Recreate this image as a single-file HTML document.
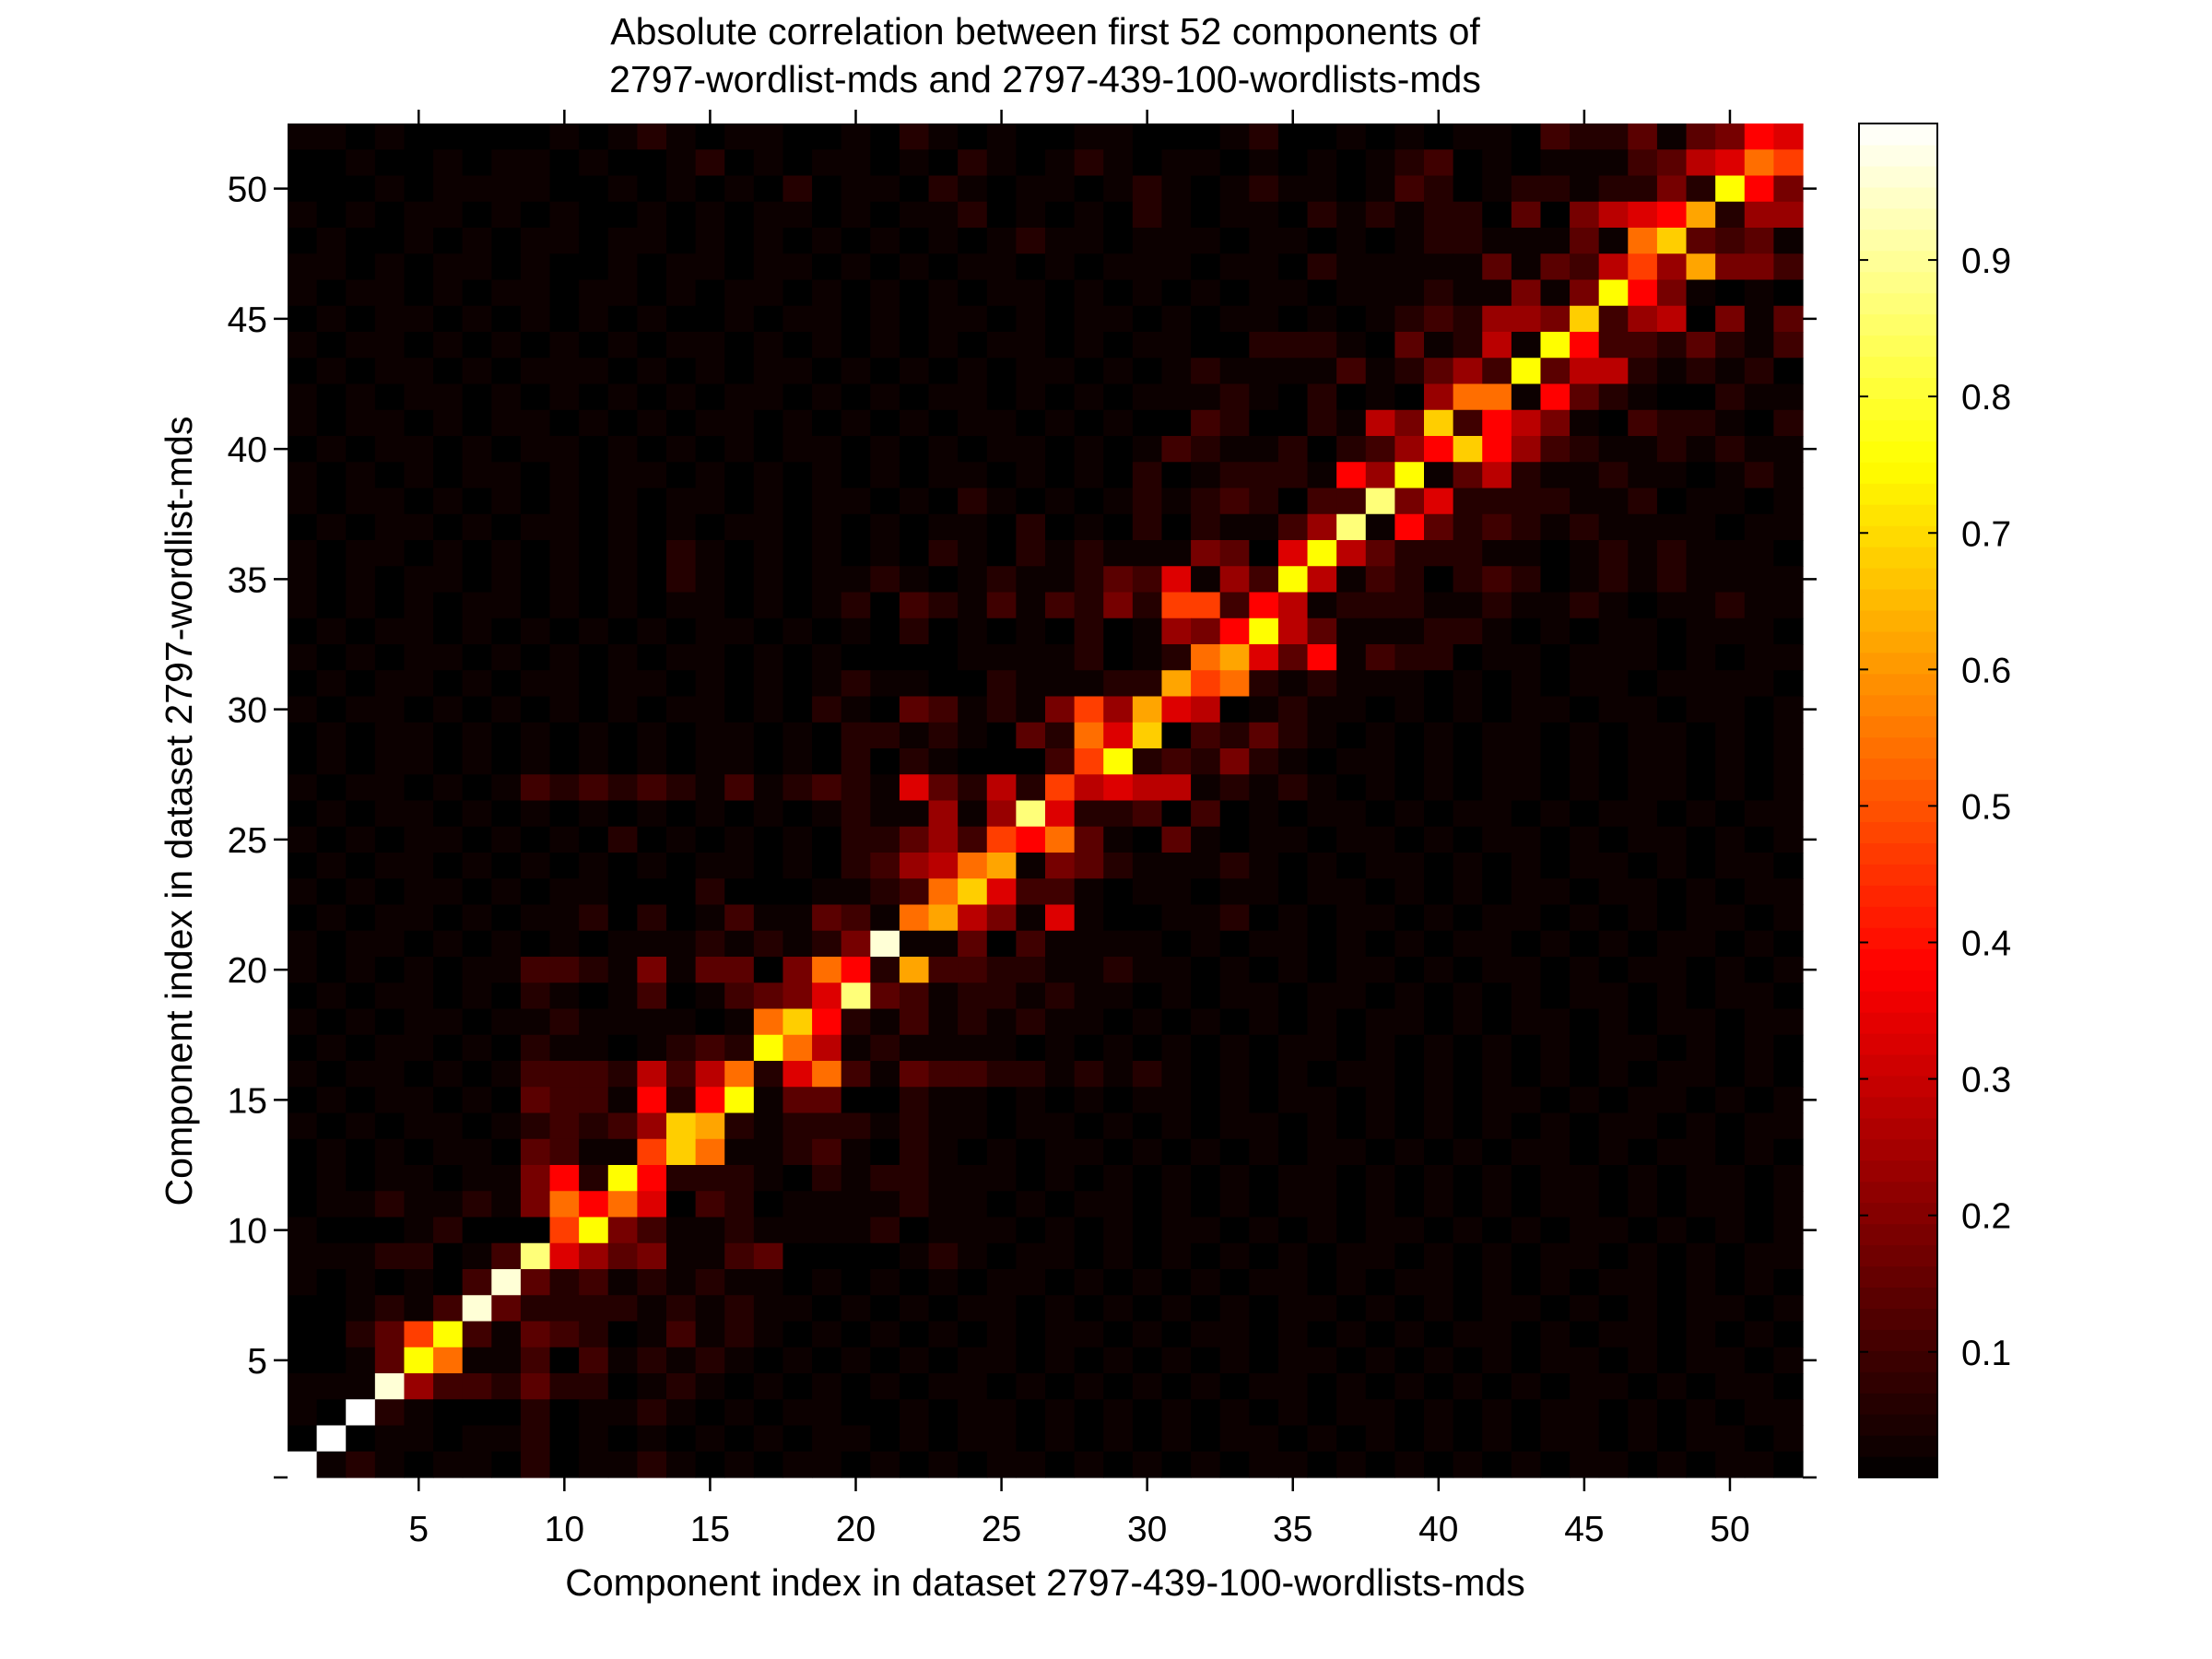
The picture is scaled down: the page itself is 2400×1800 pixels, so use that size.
<!DOCTYPE html>
<html>
<head>
<meta charset="utf-8">
<style>
  html,body{margin:0;padding:0;background:#fff;}
  body{width:2400px;height:1800px;overflow:hidden;}
  svg{display:block;font-family:"Liberation Sans",Arial,sans-serif;}
</style>
</head>
<body>
<svg id="chart" width="2400" height="1800" viewBox="0 0 2400 1800">
  <rect x="0" y="0" width="2400" height="1800" fill="#ffffff"/>
  <text x="1134" y="48" font-size="41" text-anchor="middle" fill="#000">Absolute correlation between first 52 components of</text>
  <text x="1134" y="100" font-size="41" text-anchor="middle" fill="#000">2797-wordlist-mds and 2797-439-100-wordlists-mds</text>
  <g id="cells"></g>
  <g id="axes"></g>
  <g id="cbar"></g>
  <text x="1134" y="1731" font-size="41" text-anchor="middle" fill="#000">Component index in dataset 2797-439-100-wordlists-mds</text>
  <text x="0" y="0" font-size="41" text-anchor="middle" fill="#000" transform="translate(208,880) rotate(-90)">Component index in dataset 2797-wordlist-mds</text>
</svg>
<script>
// Matrix rows from top (y=52) down to bottom (y=1); each char is a colour level
const rowLevels = [
"1101000001 0121011001 0210100110 0012001010 1103224145 98",
"0010010110 1001201011 0102101210 1101010123 0101113478 ba",
"0001011110 0101010201 1021011012 1012110132 012212252e 95",
"1010110101 0010101101 0112010102 1011021212 20405789c2 66",
"0100101011 0110101010 1010121101 1101101012 211141bd43 41",
"1101011010 0101101101 0101101011 1011021111 141437a6c5 53",
"1011010110 1101011010 1010110101 0101101112 11515e9510 10",
"0101101010 1010010110 1011010110 1011010123 2665d36705 14",
"1011010101 0101101010 1010110101 1002221041 271e933242 13",
"0101101011 1010101101 0101011010 1211113124 63e4772121 20",
"1010110101 0101011010 1011010101 1121020106 bb19421002 11",
"1011010110 1010110101 0101101010 032002175d 3975103221 02",
"0101101011 0101010110 1010110101 3211202369 d963211212 11",
"1010101101 0110101010 1011010102 01222196e1 4721121101 21",
"1011010101 0101101011 0102101012 1232033f58 2222112011 01",
"0101101011 0101011010 1011020102 021136f194 2321211110 11",
"1011010101 0102101010 1021021211 15408e7422 2110121211 10",
"1010110101 0102101011 2101211243 8163e71320 2320121211 11",
"1010101101 0101101012 0321313252 aa39712221 1211210112 11",
"0101101010 1010110101 0201010201 659e741112 2101011011 10",
"1010110101 0101101010 0001111201 2bc8491322 0110111010 11",
"0101101011 0110101012 1100211122 cab2121110 1010110111 10",
"1011010101 0101101021 0431215a6c 8701211010 1011011011 01",
"0101101010 1010110102 2121042b8d 0324210101 0110101101 01",
"0101101010 1010110102 0210003ae2 3252101101 0110101101 01",
"1011010132 3232131232 184272a787 7121210101 0110101101 01",
"0101101010 1010101012 11616f8223 0301011010 1101011010 11",
"1010110101 0201010102 2463a9b410 4101101101 0110101101 01",
"0101101010 1010110102 367bc15421 1121010110 1010110101 10",
"1010110101 1000200011 23bd833101 1011011010 1011011010 11",
"0101101011 2020131143 1bc7518100 1120101101 0110101011 01",
"1011010101 0111212125 g114031111 0101101010 1101010110 10",
"1010101133 21514405b9 2c33221121 1010101101 0110101101 01",
"0101101021 013013458f 4312212110 1011011010 1010110101 10",
"1010110112 111101bd92 1312121101 0101010110 1011010110 11",
"0101101021 101232eb71 2111101010 1010110101 0101011010 10",
"1011010133 32737b28b3 1433221212 1010101101 0101010110 10",
"0101101043 31929e1440 0211010101 1010110101 0110101101 01",
"1010110123 236dc21222 1211011010 1011010101 0101011010 11",
"0101011043 11adb11231 0210101101 0101011010 1011010110 10",
"0101101159 2e92221021 2211101010 1010110101 0101101011 01",
"011211215b 9b80320111 1211010110 1010110101 0101101011 01",
"100012000a e531121111 2011101010 1101010110 1010110101 01",
"11122013f8 6451134000 0121011010 1010101101 0101101010 11",
"1010103g42 3121211010 1010110101 0101101011 0101011010 10",
"001213g422 2212121101 0101101010 1010110101 0110101011 01",
"0024ae3143 2013121010 1010101101 0110101010 1101011010 10",
"0014eb1130 3121210101 0101101010 1010110101 0101101011 01",
"111g633242 2012101010 1011010101 0101101010 1010110101 10",
"10h2100020 1121010110 0101101010 1010101101 0101101010 11",
"0h01101120 1010101011 0101101010 1011010101 0101101011 01",
"h121011020 1121010110 1010110101 0101101010 1010110101 10"
];
const levelCodes = "0123456789abcdefgh";
const levelValues = [0.008,0.026,0.06,0.10,0.14,0.18,0.23,0.28,0.33,0.38,0.47,0.54,0.62,0.68,0.75,0.87,0.96,1.0];
const xTicks = [5,10,15,20,25,30,35,40,45,50];
const yTicks = [5,10,15,20,25,30,35,40,45,50];
const cbarTicks = [0.1,0.2,0.3,0.4,0.5,0.6,0.7,0.8,0.9];

const NS = "http://www.w3.org/2000/svg";
const PX0 = 312, PX1 = 1956, PY0 = 134, PY1 = 1603;
const N = 52;
const CMIN = 0.008, CMAX = 1.0;
function xScale(v){ return PX0 + (v - 0.5) / N * (PX1 - PX0); }
function yScale(v){ return PY1 - (v - 0.5) / N * (PY1 - PY0); }
const CB0 = 2017, CB1 = 2102;
function cScale(v){ return PY1 - (v - CMIN) / (CMAX - CMIN) * (PY1 - PY0); }
function hot(v){
  let t = (v - CMIN) / (CMAX - CMIN); t = Math.max(0, Math.min(1, t));
  const r = Math.min(1, t / 0.375), g = Math.max(0, Math.min(1, (t - 0.375) / 0.375)), b = Math.max(0, Math.min(1, (t - 0.75) / 0.25));
  return "rgb(" + Math.round(r*255) + "," + Math.round(g*255) + "," + Math.round(b*255) + ")";
}
function mk(tag, attrs, parent){
  const el = document.createElementNS(NS, tag);
  for (const k in attrs) el.setAttribute(k, attrs[k]);
  parent.appendChild(el);
  return el;
}
const cells = document.getElementById("cells");
rowLevels.forEach((rowStr, i) => {
  const s = rowStr.replace(/ /g, "");
  const yv = N - i;
  for (let c = 0; c < N; c++) {
    const v = levelValues[levelCodes.indexOf(s[c])];
    const xv = c + 1;
    const x0 = xScale(xv - 0.5), x1 = xScale(xv + 0.5);
    const y0 = yScale(yv + 0.5), y1 = yScale(yv - 0.5);
    const r = mk("rect", {x: x0.toFixed(2), y: y0.toFixed(2), width: (x1 - x0 + 0.6).toFixed(2), height: (y1 - y0 + 0.6).toFixed(2), fill: hot(v)}, cells);
    
    
  }
});
const axes = document.getElementById("axes");
xTicks.forEach(t => {
  const x = xScale(t);
  const tb = mk("line", {x1: x, x2: x, y1: PY1, y2: PY1 + 15, stroke: "#000", "stroke-width": 2.5}, axes);
  
  
  const tt = mk("line", {x1: x, x2: x, y1: PY0, y2: PY0 - 15, stroke: "#000", "stroke-width": 2.5}, axes);
  
  
  const lb = mk("text", {x: x, y: PY1 + 69, "font-size": 39, "text-anchor": "middle", fill: "#000"}, axes);
  lb.textContent = t;
  
  
});
yTicks.concat([0.5]).forEach(t => {
  const y = yScale(t);
  const tl = mk("line", {x1: PX0 - 15, x2: PX0, y1: y, y2: y, stroke: "#000", "stroke-width": 2.5}, axes);
  
  
  const tr = mk("line", {x1: PX1, x2: PX1 + 15, y1: y, y2: y, stroke: "#000", "stroke-width": 2.5}, axes);
  
  
});
yTicks.forEach(t => {
  const lb = mk("text", {x: 290, y: yScale(t) + 14, "font-size": 39, "text-anchor": "end", fill: "#000"}, axes);
  lb.textContent = t;
  
  
});
const cbar = document.getElementById("cbar");
for (let k = 0; k < 64; k++) {
  const v0 = CMIN + (CMAX - CMIN) * k / 64, v1 = CMIN + (CMAX - CMIN) * (k + 1) / 64;
  const y0 = cScale(v1), y1 = cScale(v0);
  const r = mk("rect", {x: CB0, y: y0.toFixed(2), width: CB1 - CB0, height: (y1 - y0 + 0.6).toFixed(2), fill: hot((v0 + v1) / 2)}, cbar);
  
  
}
const cbBox = mk("rect", {x: CB0, y: PY0, width: CB1 - CB0, height: PY1 - PY0, fill: "none", stroke: "#000", "stroke-width": 2}, cbar);


cbarTicks.forEach(t => {
  const y = cScale(t);
  const a = mk("line", {x1: CB0, x2: CB0 + 10, y1: y, y2: y, stroke: "#000", "stroke-width": 2}, cbar);
  
  
  const b = mk("line", {x1: CB1 - 10, x2: CB1, y1: y, y2: y, stroke: "#000", "stroke-width": 2}, cbar);
  
  
  const lb = mk("text", {x: CB1 + 26, y: y + 14, "font-size": 39, "text-anchor": "start", fill: "#000"}, cbar);
  lb.textContent = t.toFixed(1);
  
  
});
</script>
</body>
</html>
